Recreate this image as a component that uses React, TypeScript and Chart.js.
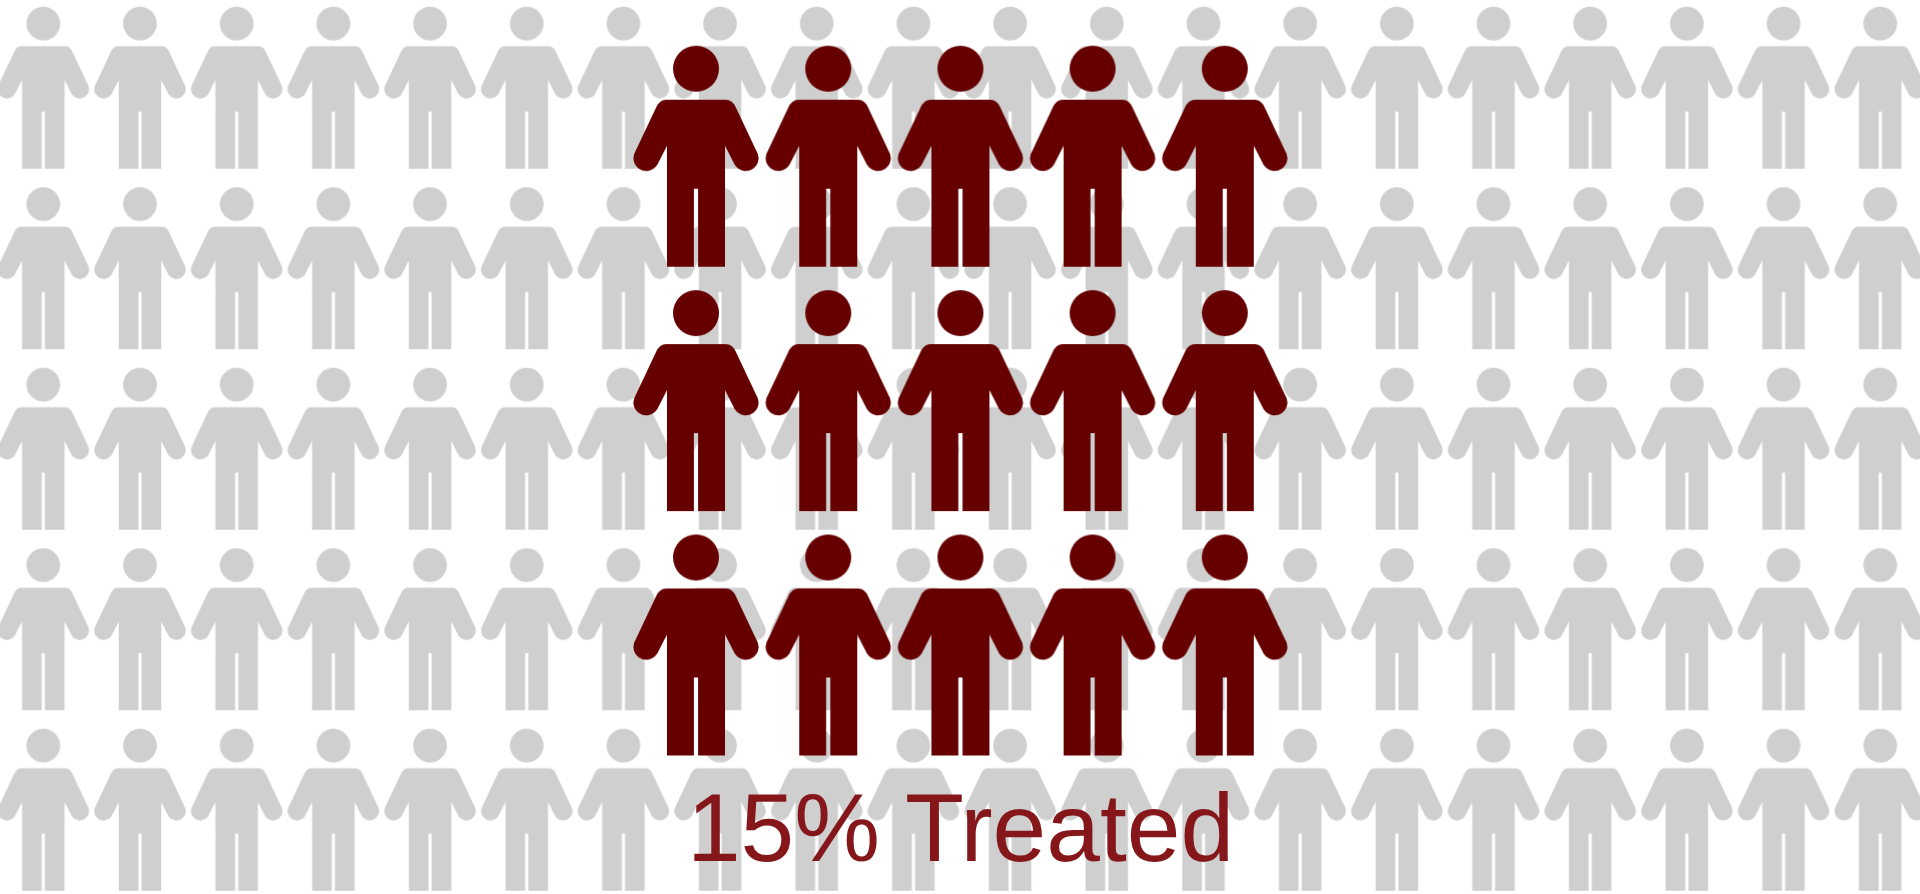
import React, { useEffect, useRef } from "react";
import { Chart, registerables } from "chart.js";

Chart.register(...registerables);

// Population grid: one figure per person out of 100.
const populationColumns = [1, 2, 3, 4, 5, 6, 7, 8, 9, 10, 11, 12, 13, 14, 15, 16, 17, 18, 19, 20];
const populationRows = [1, 2, 3, 4, 5];

// Treated group: 15 people, drawn larger on top of the population.
const treatedColumns = [1, 2, 3, 4, 5];
const treatedRows = [1, 2, 3];
const treatedShare = 15;

const captionLabel = `${treatedShare}% Treated`;

const WIDTH = 1920;
const HEIGHT = 894;

const cross = (cols: number[], rows: number[]) =>
  rows.flatMap((y) => cols.map((x) => ({ x, y })));

// Builds a person glyph as an offscreen canvas, centred on its bounding box.
function personGlyph(scale: number, color: string): HTMLCanvasElement {
  const canvas = document.createElement("canvas");
  canvas.width = Math.ceil(130 * scale) + 4;
  canvas.height = Math.ceil(221 * scale) + 4;
  const ctx = canvas.getContext("2d")!;
  ctx.translate(canvas.width / 2, canvas.height / 2);
  ctx.scale(scale, scale);
  ctx.translate(0, -110.5);
  ctx.fillStyle = color;

  ctx.beginPath();
  ctx.arc(0, 23, 23, 0, Math.PI * 2);
  ctx.fill();

  for (const side of [1, -1]) {
    ctx.save();
    ctx.scale(side, 1);
    ctx.beginPath();
    ctx.moveTo(-0.5, 54);
    ctx.lineTo(30, 54);
    ctx.quadraticCurveTo(36.5, 54, 40, 62);
    ctx.lineTo(60.3, 105);
    ctx.arc(49.7, 112.3, 12.87, Math.atan2(-7.3, 10.6), Math.atan2(6.7, -11));
    ctx.lineTo(29, 100);
    ctx.lineTo(29, 221);
    ctx.lineTo(2.1, 221);
    ctx.lineTo(2.1, 143);
    ctx.lineTo(-0.5, 143);
    ctx.closePath();
    ctx.fill();
    ctx.restore();
  }
  return canvas;
}

// Linear range whose value `first` lands on pixel `start`, with `step` pixels per unit.
const rangeFor = (first: number, start: number, step: number, span: number) => {
  const min = first - start / step;
  return { min, max: min + span / step };
};

const hiddenAxis = (axis: "x" | "y", first: number, start: number, step: number, span: number) => ({
  type: "linear" as const,
  axis,
  display: false,
  reverse: false,
  ...rangeFor(first, start, step, span),
});

const captionPlugin = {
  id: "caption",
  afterDatasetsDraw(chart: Chart) {
    const { ctx } = chart;
    ctx.save();
    (ctx as any).textRendering = "geometricPrecision";
    ctx.font = '96.5px "Liberation Sans"';
    ctx.fillStyle = "#85171b";
    ctx.textAlign = "center";
    ctx.textBaseline = "alphabetic";
    ctx.fillText(captionLabel, 960.5, 861);
    ctx.restore();
  },
};

export default function App() {
  const ref = useRef<HTMLCanvasElement>(null);

  useEffect(() => {
    const chart = new Chart(ref.current!, {
      type: "scatter",
      data: {
        datasets: [
          {
            label: "Treated",
            data: cross(treatedColumns, treatedRows),
            pointStyle: personGlyph(1, "#660000"),
            xAxisID: "xTreated",
            yAxisID: "yTreated",
            order: 0,
          },
          {
            label: "Population",
            data: cross(populationColumns, populationRows),
            pointStyle: personGlyph(0.733, "#cfcfcf"),
            xAxisID: "x",
            yAxisID: "y",
            order: 1,
          },
        ],
      },
      options: {
        responsive: false,
        animation: false,
        layout: { padding: 0, autoPadding: false },
        plugins: { legend: { display: false }, title: { display: false }, tooltip: { enabled: false } },
        scales: {
          x: hiddenAxis("x", 1, 43.3, 96.68, WIDTH),
          y: { ...hiddenAxis("y", 1, 87.7, 180.5, HEIGHT), reverse: true },
          xTreated: hiddenAxis("x", 1, 696, 132.2, WIDTH),
          yTreated: { ...hiddenAxis("y", 1, 156.2, 244.4, HEIGHT), reverse: true },
        },
      },
      plugins: [captionPlugin],
    });
    return () => chart.destroy();
  }, []);

  return (
    <div style={{ position: "absolute", left: 0, top: 0, width: WIDTH, height: HEIGHT, background: "#fff", overflow: "hidden" }}>
      <canvas ref={ref} width={WIDTH} height={HEIGHT} style={{ display: "block" }} />
    </div>
  );
}
